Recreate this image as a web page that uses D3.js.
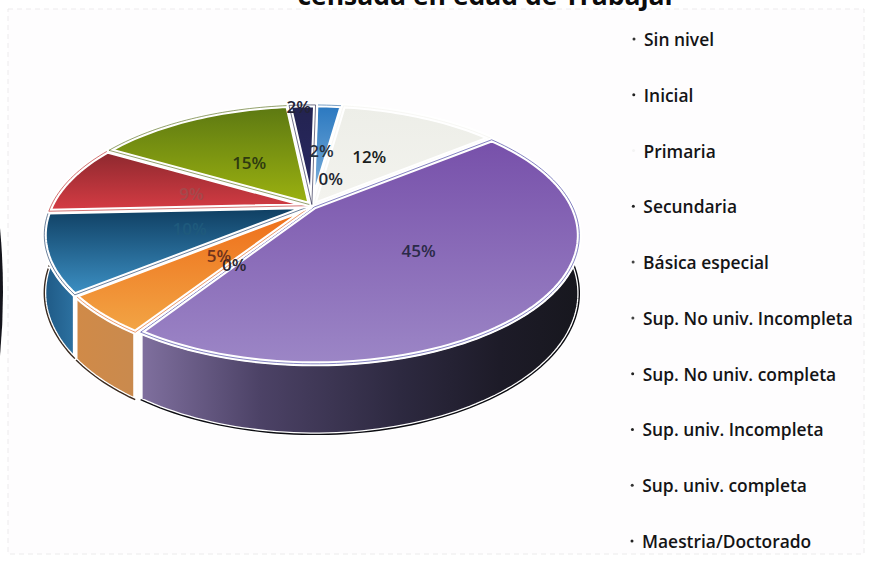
<!DOCTYPE html>
<html>
<head>
<meta charset="utf-8">
<script src="https://cdn.jsdelivr.net/npm/d3@7"></script>
<style>
html,body{margin:0;padding:0;background:#fff;overflow:hidden}
svg{display:block}
</style>
</head>
<body>
<svg id="chart" width="870" height="563"></svg>
<script>
// Education level shares, clockwise from just past twelve o'clock
const categories = ["Sin nivel","Inicial","Primaria","Secundaria","Básica especial",
  "Sup. No univ. Incompleta","Sup. No univ. completa","Sup. univ. Incompleta",
  "Sup. univ. completa","Maestria/Doctorado"];
const shares = [2,0,12,45,0,5,10,9,15,2];
const title = "censada en edad de Trabajar";

// Top-face gradients (far edge, near edge) and the thin line drawn along each wedge
const topFar  = ["#2a78c0","#cccccc","#edeee8","#7750aa","#888888","#ee6c18","#0e3d60","#8c282e","#5c7812","#232350"];
const topNear = ["#86b6de","#cccccc","#f3f3ee","#9c86c6","#888888","#f2a545","#3c90c4","#d63c44","#9cb210","#2a2a66"];
const edge    = ["#1f5f9f","#cccccc","#f1f1ec","#33309a","#888888","#e05c10","#0a2c58","#b81818","#4c620c","#14143c"];
// Side-wall gradient stops, left to right
const wallStops = {
  3: [[140,"#80709f"],[260,"#4c4266"],[400,"#2d2940"],[500,"#1d1b28"],[580,"#17171e"]],
  5: [[78,"#d08a48"],[138,"#c98a4e"]],
  6: [[45,"#1f5a86"],[78,"#2e74a4"]],
  7: [[45,"#7a2226"],[78,"#7a2226"]]
};
// Radial position of each percentage label on the top face, plus a small angular nudge in degrees
const labelRadius = [0.51,0.245,0.505,0.51,0.51,0.50,0.49,0.49,0.47,0.99];
const labelNudge  = [0,10,-1,-1,-1,-1,-1,-1,-1,-1];
const labelColor  = ["#27323f","#1e2630","#1a1d1c","#2b2a48","#2a2630","#70331c","#1f5a7c","#a4494c","#2e3a10","#232336"];
const legendBullet = ["#333","#222","#f4f4f4","#222","#444","#444","#222","#222","#333","#222"];

const W = 870, H = 563;
const svg = d3.select("#chart");
const defs = svg.append("defs");

// Tilted-disc projection: unit-disc coordinates to the page, nearer points drawn larger
const cx = 312, cy = 206, rx = 258, ry = 122, persp = 0.219, wallDepth = 55, pull = 0.012;
const rad = d3.scaleLinear().domain([0, 360]).range([0, 2 * Math.PI]);
function project(X, Y) {
  const w = 1 - persp * Y;
  return [cx + rx * X / w, cy + ry * Y / w, w];
}
const pie = d3.pie().value(d => d).sort(null).startAngle(rad(1)).endAngle(rad(361));
const arcs = pie(shares);
const line = d3.line();

function rimPoints(a0, a1, mid) {
  const ox = pull * Math.sin(mid), oy = -pull * Math.cos(mid);
  const n = Math.max(2, Math.ceil((a1 - a0) / rad(1.5)));
  return d3.range(n + 1).map(i => {
    const t = a0 + (a1 - a0) * i / n;
    return project(ox + Math.sin(t), oy - Math.cos(t));
  });
}

// Paper background with the faint dashed frame of the chart area
svg.append("rect").attr("width", W).attr("height", H).attr("fill", "#ffffff");
svg.append("rect").attr("x", 8).attr("y", 9).attr("width", 856).attr("height", 545)
  .attr("fill", "#fefdfe").attr("stroke", "#ecebec").attr("stroke-dasharray", "5 4").attr("stroke-width", 1);
svg.append("path").attr("d", "M0,228 Q6,292 0,356 Z").attr("fill", "#15151c");

// Heading, running off the top of the page
svg.append("text").attr("x", 487).attr("y", 5).attr("text-anchor", "middle")
  .attr("font-family", "'Open Sans', sans-serif").attr("font-weight", 700).attr("font-size", 26.5)
  .attr("fill", "#0c0c0c").text(title);

// Side walls, painted behind the top faces
const wallG = svg.append("g");
arcs.forEach((d, i) => {
  const stops = wallStops[i];
  if (!stops) return;
  const gid = "wall" + i;
  const g = defs.append("linearGradient").attr("id", gid).attr("gradientUnits", "userSpaceOnUse")
    .attr("x1", stops[0][0]).attr("x2", stops[stops.length - 1][0]).attr("y1", 0).attr("y2", 0);
  const span = stops[stops.length - 1][0] - stops[0][0];
  stops.forEach(s => g.append("stop").attr("offset", (s[0] - stops[0][0]) / span).attr("stop-color", s[1]));
  const mid = (d.startAngle + d.endAngle) / 2;
  const a0 = Math.max(d.startAngle, rad(90)), a1 = Math.min(d.endAngle, rad(268));
  if (a1 <= a0) return;
  const upper = rimPoints(a0, a1, mid);
  const lower = upper.map(p => [p[0], p[1] + wallDepth / p[2]]);
  wallG.append("path").attr("d", line(upper.concat(lower.slice().reverse()).map(p => [p[0], p[1]])) + "Z")
    .attr("fill", `url(#${gid})`).attr("stroke", "#ffffff").attr("stroke-width", 4).attr("stroke-linejoin", "round");
  wallG.append("path").attr("d", line(lower))
    .attr("fill", "none").attr("stroke", i === 3 ? "#0c0c12" : "#3a2a20").attr("stroke-width", 1.4);
});

// Top faces
const topG = svg.append("g");
arcs.forEach((d, i) => {
  if (d.endAngle - d.startAngle <= 0) return;
  const mid = (d.startAngle + d.endAngle) / 2;
  const rim = rimPoints(d.startAngle, d.endAngle, mid);
  const apex = project(pull * Math.sin(mid), -pull * Math.cos(mid));
  const outline = [apex].concat(rim).map(p => [p[0], p[1]]);
  const ys = outline.map(p => p[1]);
  const gid = "top" + i;
  const g = defs.append("linearGradient").attr("id", gid).attr("gradientUnits", "userSpaceOnUse")
    .attr("x1", 0).attr("x2", 0).attr("y1", d3.min(ys)).attr("y2", d3.max(ys));
  g.append("stop").attr("offset", 0).attr("stop-color", topFar[i]);
  g.append("stop").attr("offset", 1).attr("stop-color", topNear[i]);
  topG.append("path").attr("d", line(outline) + "Z")
    .attr("fill", `url(#${gid})`).attr("stroke", "#ffffff").attr("stroke-width", 5).attr("stroke-linejoin", "round");
  topG.append("path").attr("d", line(outline) + "Z")
    .attr("fill", "none").attr("stroke", edge[i]).attr("stroke-width", 1).attr("stroke-opacity", 0.6);
});

// Percentage labels
const fmt = d3.format(".0%");
svg.append("g").selectAll("text").data(arcs).join("text")
  .attr("transform", (d, i) => {
    const mid = (d.startAngle + d.endAngle) / 2 + rad(labelNudge[i]);
    const p = project(labelRadius[i] * Math.sin(mid), -labelRadius[i] * Math.cos(mid));
    return `translate(${p[0]},${p[1]})`;
  })
  .attr("text-anchor", "middle").attr("dominant-baseline", "central")
  .attr("font-family", "'Open Sans', sans-serif").attr("font-weight", 600).attr("font-size", 17)
  .attr("fill", (d, i) => labelColor[i])
  .text(d => fmt(d.data / 100));

// Legend column
const legendY = d3.scalePoint().domain(categories).range([39, 541]);
const legendX = d3.scaleLinear().domain([39, 541]).range([644, 642]);
const legend = svg.append("g").selectAll("g").data(categories).join("g")
  .attr("transform", d => `translate(${legendX(legendY(d))},${legendY(d)})`);
legend.append("circle").attr("cx", -10).attr("r", 1.5).attr("fill", (d, i) => legendBullet[i]);
legend.append("text").attr("dominant-baseline", "central")
  .attr("font-family", "'Open Sans', sans-serif").attr("font-weight", 600).attr("font-size", 17.4)
  .attr("fill", "#141416").text(d => d);
</script>
</body>
</html>
